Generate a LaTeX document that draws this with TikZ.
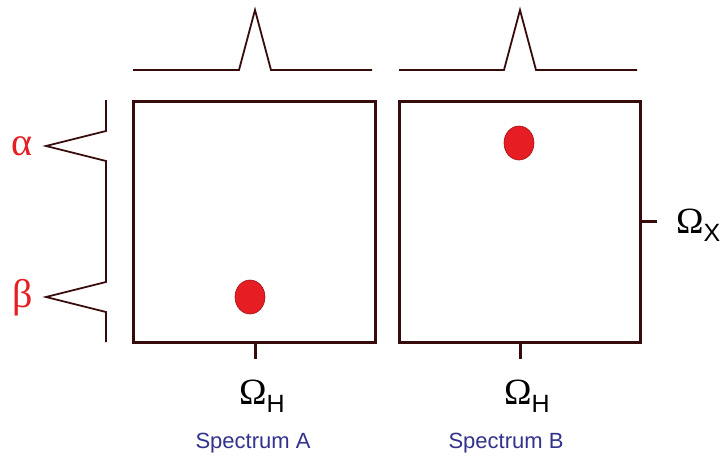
\documentclass[tikz,border=0pt]{standalone}
\usepackage{fontspec}
\setmainfont{Liberation Sans}
\newfontfamily\greekfont{Liberation Serif}
\definecolor{frame}{RGB}{55,10,12}
\definecolor{spot}{RGB}{230,30,35}
\definecolor{lblue}{RGB}{50,50,140}
\definecolor{lred}{RGB}{230,30,35}
\newcommand{\omsub}[1]{{\greekfont Ω}\raisebox{-8pt}{\fontsize{25}{26}\selectfont #1}}
\begin{document}
\begin{tikzpicture}[x=1pt,y=-1pt,
  boxst/.style={draw=frame,line width=3pt},
  specst/.style={draw=frame,line width=1.8pt,line join=miter},
  tickst/.style={draw=frame,line width=3pt},
  spotst/.style={fill=spot,draw=spot!70!black,line width=0.6pt},
  omega/.style={text=black,font=\fontsize{37}{38}\selectfont,inner sep=0pt},
  speclbl/.style={text=lblue,font=\fontsize{22}{24}\selectfont,inner sep=0pt},
  greek/.style={text=lred,font=\greekfont\fontsize{40}{42}\selectfont,inner sep=0pt}]
\useasboundingbox (0,0) rectangle (721,459);
% boxes
\draw[boxst] (133.5,101.5) rectangle (375,342);
\draw[boxst] (399.5,101.5) rectangle (640,342);
% top spectra
\draw[specst] (133,70) -- (239,70) -- (255,10) -- (271,70) -- (372,70);
\draw[specst] (399,70) -- (504,70) -- (520,10) -- (536,70) -- (637,70);
% left spectrum
\draw[specst] (106,100) -- (106,131) -- (46,146) -- (106,161) -- (106,282) -- (46,297) -- (106,312) -- (106,342);
% spots
\draw[spotst] (250,297) ellipse [x radius=15,y radius=17];
\draw[spotst] (519,143) ellipse [x radius=15,y radius=17];
% ticks
\coordinate (ta) at (255,342); \coordinate (tab) at (255,359);
\coordinate (tb) at (520,342); \coordinate (tbb) at (520,359);
\coordinate (tx) at (640,221); \coordinate (txe) at (657,221);
\draw[tickst] (ta) -- (tab);
\draw[tickst] (tb) -- (tbb);
\draw[tickst] (tx) -- (txe);
% labels
\node[omega,anchor=base west] (oha) at (239,404) {\omsub{H}};
\node[omega,anchor=base west] (ohb) at (504,404) {\omsub{H}};
\node[omega,anchor=base west] (ox) at (676,233) {\omsub{X}};
\node[speclbl] (sa) at (253,443) {Spectrum A};
\node[speclbl] (sb) at (506,443) {Spectrum B};
\node[greek] (al) at (22,146) {α};
\node[greek] (be) at (23,298) {β};
\end{tikzpicture}
\end{document}
